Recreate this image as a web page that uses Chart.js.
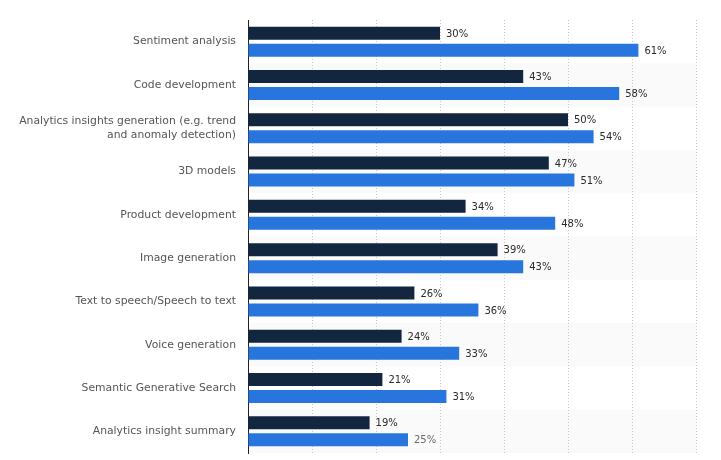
<!DOCTYPE html>
<html lang="en">
<head>
  <meta charset="UTF-8" />
  <title>Generative AI use cases</title>
  <style>
    html, body { margin: 0; padding: 0; background: #fff; }
    #wrap { width: 721px; height: 460px; position: relative; }
  </style>
</head>
<body>
  <div id="wrap"><canvas id="chart" width="721" height="460"></canvas></div>

  <script src="https://cdn.jsdelivr.net/npm/chart.js"></script>
  <script>
    const categories = [
      'Sentiment analysis',
      'Code development',
      ['Analytics insights generation (e.g. trend', 'and anomaly detection)'],
      '3D models',
      'Product development',
      'Image generation',
      'Text to speech/Speech to text',
      'Voice generation',
      'Semantic Generative Search',
      'Analytics insight summary'
    ];
    const seriesDark = [30, 43, 50, 47, 34, 39, 26, 24, 21, 19];
    const seriesBlue = [61, 58, 54, 51, 48, 43, 36, 33, 31, 25];
    const xTicks = [0, 10, 20, 30, 40, 50, 60, 70];

    // grey band behind every other category (drawn before grid and axis)
    const bands = {
      id: 'bands',
      beforeDraw(chart) {
        const { ctx, chartArea, scales } = chart;
        const y = scales.y;
        const half = (y.getPixelForValue(1) - y.getPixelForValue(0)) / 2;
        ctx.save();
        ctx.fillStyle = '#fafafa';
        categories.forEach((c, i) => {
          if (i % 2 === 1) {
            const cy = y.getPixelForValue(i);
            ctx.fillRect(chartArea.left, cy - half, chartArea.right - chartArea.left, half * 2);
          }
        });
        ctx.restore();
      }
    };

    // "30%" labels at the end of each bar
    const valueLabels = {
      id: 'valueLabels',
      afterDatasetsDraw(chart) {
        const { ctx } = chart;
        ctx.save();
        ctx.font = '10px "DejaVu Sans"';
        ctx.textBaseline = 'middle';
        chart.data.datasets.forEach((ds, di) => {
          chart.getDatasetMeta(di).data.forEach((bar, i) => {
            // the bottom row of the source is faded a little
            ctx.fillStyle = (di === 1 && i === ds.data.length - 1) ? '#6a6a6a' : '#2a2a2a';
            ctx.fillText(ds.data[i] + '%', bar.x + 6, bar.y + 1);
          });
        });
        ctx.restore();
      }
    };

    // last blue bar fades out toward the bottom like in the source
    function blueFill(c) {
      if (c.dataIndex !== seriesBlue.length - 1 || !c.element) return '#2876dd';
      const { y, height } = c.element.getProps(['y', 'height'], true);
      if (!isFinite(y) || !isFinite(height) || height <= 0) return '#2876dd';
      const g = c.chart.ctx.createLinearGradient(0, y - height / 2, 0, y + height / 2);
      g.addColorStop(0, '#2f78dc');
      g.addColorStop(1, '#8db5ee');
      return g;
    }

    new Chart(document.getElementById('chart'), {
      type: 'bar',
      data: {
        labels: categories,
        datasets: [
          {
            data: seriesDark,
            backgroundColor: '#12273f',
            categoryPercentage: 0.785,
            barPercentage: 0.765
          },
          {
            data: seriesBlue,
            backgroundColor: blueFill,
            categoryPercentage: 0.785,
            barPercentage: 0.765
          }
        ]
      },
      options: {
        indexAxis: 'y',
        responsive: false,
        animation: false,
        layout: { padding: { top: 20, right: 25, bottom: 7, left: 0 } },
        plugins: { legend: { display: false }, tooltip: { enabled: false } },
        scales: {
          x: {
            min: xTicks[0],
            max: xTicks[xTicks.length - 1],
            afterBuildTicks(scale) { scale.ticks = xTicks.map(v => ({ value: v })); },
            ticks: { display: false, padding: 0 },
            grid: { color: '#c8c8c8', drawTicks: false },
            border: { display: false, dash: [1, 2] },
            afterFit(scale) { scale.height = 0; }
          },
          y: {
            grid: { display: false, drawTicks: false },
            border: { display: true, color: '#222', width: 1 },
            ticks: {
              color: '#555',
              padding: 12,
              font: { family: '"DejaVu Sans"', size: 10.8, lineHeight: 1.3 }
            },
            afterFit(scale) {
              scale.width = 248;
              scale.paddingTop = 0;
              scale.paddingBottom = 0;
            }
          }
        }
      },
      plugins: [bands, valueLabels]
    });
  </script>
</body>
</html>
